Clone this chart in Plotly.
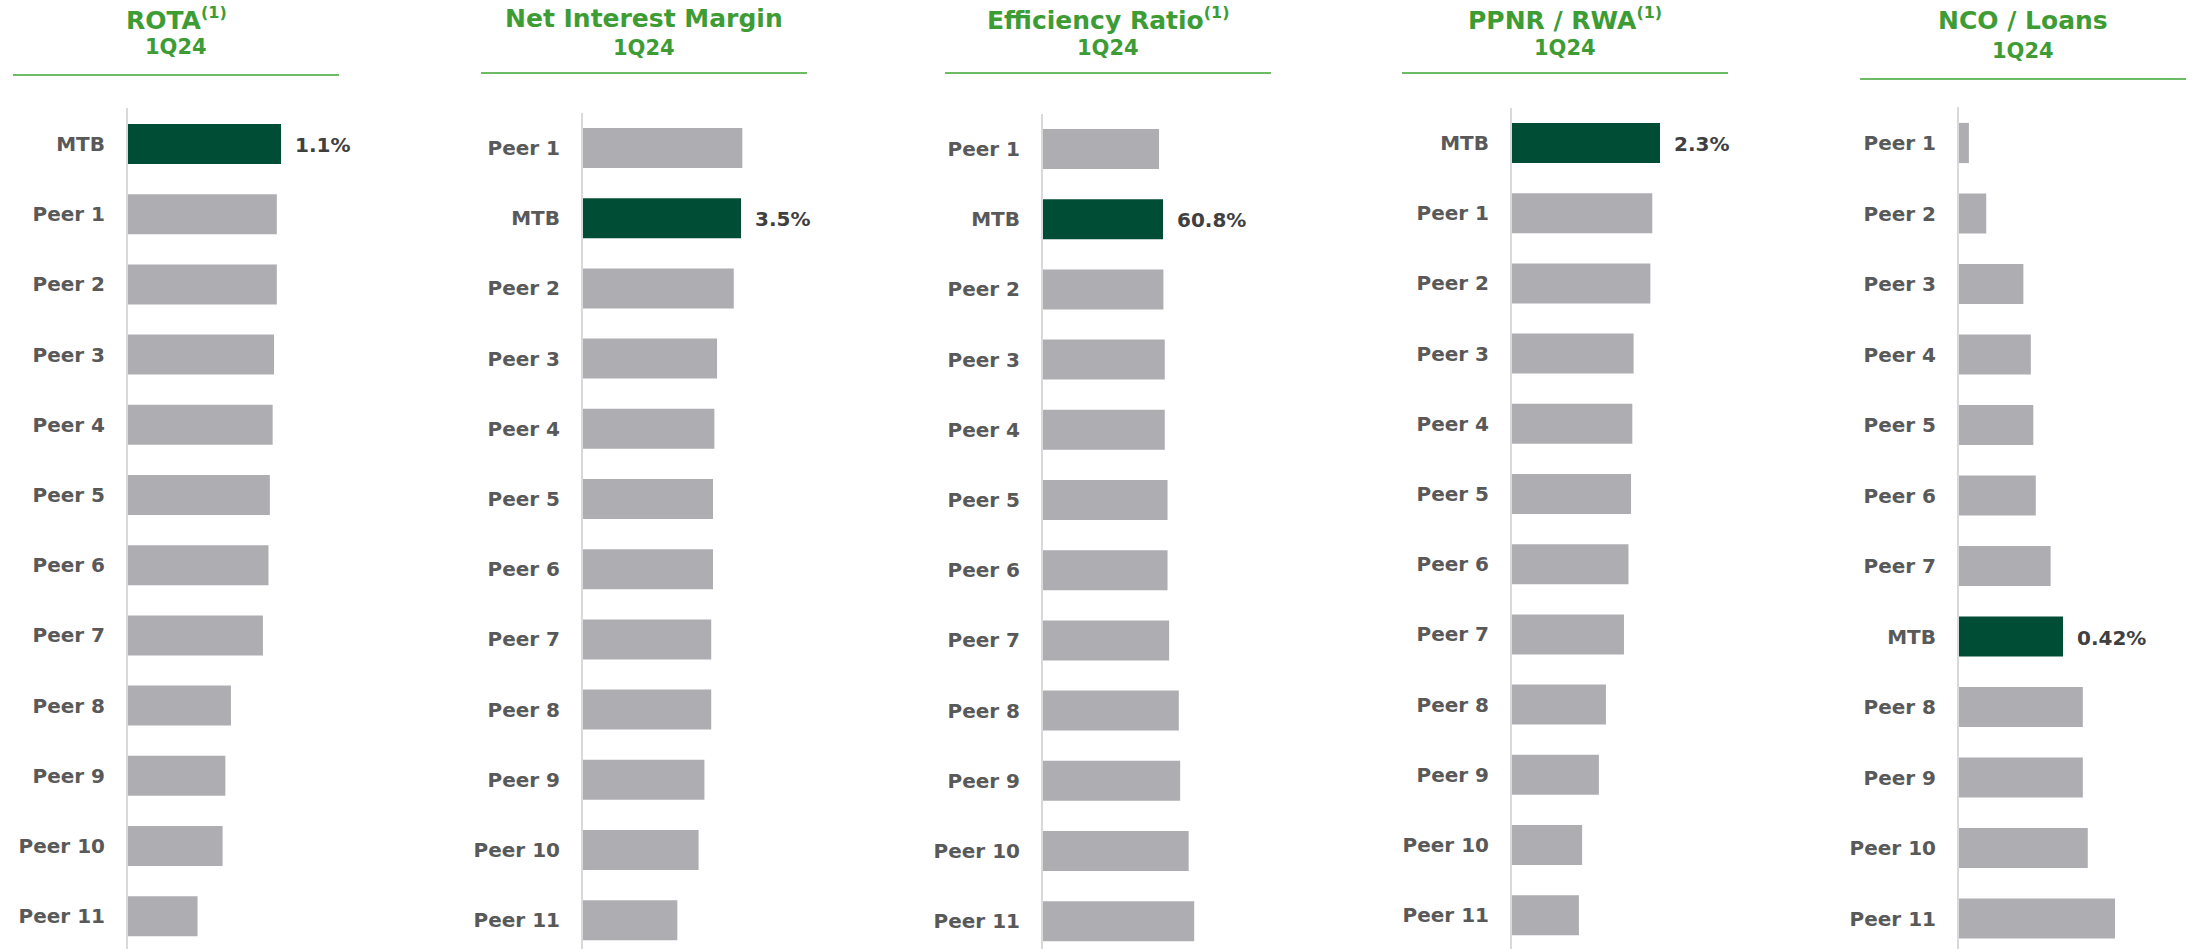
import plotly.graph_objects as go

W, H = 2196, 949

# ---------------- data ----------------
rota_cats = ["MTB", "Peer 1", "Peer 2", "Peer 3", "Peer 4", "Peer 5", "Peer 6",
             "Peer 7", "Peer 8", "Peer 9", "Peer 10", "Peer 11"]
rota_vals = [1.10, 1.07, 1.07, 1.05, 1.04, 1.02, 1.01, 0.97, 0.74, 0.70, 0.68, 0.50]

nim_cats = ["Peer 1", "MTB", "Peer 2", "Peer 3", "Peer 4", "Peer 5", "Peer 6",
            "Peer 7", "Peer 8", "Peer 9", "Peer 10", "Peer 11"]
nim_vals = [3.53, 3.50, 3.34, 2.97, 2.91, 2.88, 2.88, 2.84, 2.84, 2.69, 2.56, 2.09]

eff_cats = ["Peer 1", "MTB", "Peer 2", "Peer 3", "Peer 4", "Peer 5", "Peer 6",
            "Peer 7", "Peer 8", "Peer 9", "Peer 10", "Peer 11"]
eff_vals = [58.8, 60.8, 61.0, 61.7, 61.7, 63.1, 63.1, 63.9, 68.8, 69.5, 73.8, 76.6]

ppnr_cats = ["MTB", "Peer 1", "Peer 2", "Peer 3", "Peer 4", "Peer 5", "Peer 6",
             "Peer 7", "Peer 8", "Peer 9", "Peer 10", "Peer 11"]
ppnr_vals = [2.30, 2.18, 2.15, 1.89, 1.87, 1.85, 1.81, 1.74, 1.46, 1.35, 1.09, 1.04]

nco_cats = ["Peer 1", "Peer 2", "Peer 3", "Peer 4", "Peer 5", "Peer 6", "Peer 7",
            "MTB", "Peer 8", "Peer 9", "Peer 10", "Peer 11"]
nco_vals = [0.04, 0.11, 0.26, 0.29, 0.30, 0.31, 0.37, 0.42, 0.50, 0.50, 0.52, 0.63]

SUP = "<sup><span style='font-size:16px'>(1)</span></sup>"
titles = ["ROTA" + SUP, "Net Interest Margin", "Efficiency Ratio" + SUP,
          "PPNR / RWA" + SUP, "NCO / Loans"]
subtitle = "1Q24"
label_decimals = [1, 1, 1, 1, 2]

# ---------------- styling / layout params (window pixel coords) ----------------
# x0: axis position, ppu: pixels per unit, top: axis line top, c0: first bar centre,
# pitch: category spacing, tc: title centre x, ty/sy: title/subtitle centre y, ly: rule y
panels = [
    dict(cats=rota_cats, vals=rota_vals, x0=128, ppu=153 / 1.10, top=108, c0=144, pitch=70.2,
         tc=176, ty=19, sy=47, ly=75),
    dict(cats=nim_cats, vals=nim_vals, x0=583, ppu=158 / 3.50, top=113, c0=148, pitch=70.2,
         tc=644, ty=19, sy=48, ly=73),
    dict(cats=eff_cats, vals=eff_vals, x0=1043, ppu=120 / 60.8, top=114, c0=149, pitch=70.2,
         tc=1108, ty=19, sy=48, ly=73),
    dict(cats=ppnr_cats, vals=ppnr_vals, x0=1512, ppu=148 / 2.30, top=108, c0=143, pitch=70.2,
         tc=1565, ty=19, sy=48, ly=73),
    dict(cats=nco_cats, vals=nco_vals, x0=1959, ppu=104 / 0.42, top=107, c0=143, pitch=70.5,
         tc=2023, ty=21, sy=51, ly=79),
]
BOTTOM = H

DARK = "#004D36"
GRAY = "#AEADB2"
TITLE_GREEN = "#3E9C35"
LINE_GREEN = "#6DBB63"
LABEL_GRAY = "#595959"
VALUE_GRAY = "#404040"
FONT = "DejaVu Sans, Liberation Sans, Arial, sans-serif"
PANEL_W = 210


def px(xw):
    return xw / W


def py(yw):
    return 1 - yw / H


fig = go.Figure()
layout = dict(
    width=W, height=H,
    margin=dict(l=0, r=0, t=0, b=0),
    paper_bgcolor="white", plot_bgcolor="white",
    showlegend=False,
    bargap=0.43,
    font=dict(family=FONT),
)
annotations = []
shapes = []

for i, p in enumerate(panels, start=1):
    xa = "x" if i == 1 else f"x{i}"
    ya = "y" if i == 1 else f"y{i}"
    colors = [DARK if c == "MTB" else GRAY for c in p["cats"]]
    fig.add_trace(go.Bar(
        x=p["vals"], y=p["cats"], orientation="h",
        marker=dict(color=colors, line=dict(width=0)),
        xaxis=xa, yaxis=ya, hoverinfo="x+y",
    ))
    xd = [px(p["x0"]), px(p["x0"] + PANEL_W)]
    layout["xaxis" if i == 1 else f"xaxis{i}"] = dict(
        domain=xd, range=[0, PANEL_W / p["ppu"]], anchor=ya,
        showgrid=False, zeroline=False, showticklabels=False, showline=False, fixedrange=True,
    )
    r0 = -(p["c0"] - p["top"]) / p["pitch"]
    r1 = r0 + (BOTTOM - p["top"]) / p["pitch"]
    layout["yaxis" if i == 1 else f"yaxis{i}"] = dict(
        domain=[0, py(p["top"])], anchor=xa,
        type="category", categoryorder="array", categoryarray=p["cats"],
        range=[r1, r0],
        showgrid=False, zeroline=False,
        showline=True, linecolor="#D9D9D9", linewidth=2,
        ticks="", ticklabelstandoff=17,
        tickfont=dict(family=FONT, size=20, color=LABEL_GRAY, weight="bold"),
        fixedrange=True,
    )
    # value label for MTB
    k = p["cats"].index("MTB")
    v = p["vals"][k]
    annotations.append(dict(
        x=v, y="MTB", xref=xa, yref=ya, xanchor="left", yanchor="middle",
        xshift=12, yshift=-1, showarrow=False,
        text=f"{v:.{label_decimals[i-1]}f}%",
        font=dict(family=FONT, size=20, color=VALUE_GRAY, weight="bold"),
    ))
    # titles
    annotations.append(dict(
        x=px(p["tc"]), y=py(p["ty"]), xref="paper", yref="paper",
        xanchor="center", yanchor="middle", showarrow=False,
        text=titles[i-1],
        font=dict(family=FONT, size=25, color=TITLE_GREEN, weight="bold"),
    ))
    annotations.append(dict(
        x=px(p["tc"]), y=py(p["sy"]), xref="paper", yref="paper",
        xanchor="center", yanchor="middle", showarrow=False,
        text=subtitle,
        font=dict(family=FONT, size=21, color=TITLE_GREEN, weight="bold"),
    ))
    shapes.append(dict(
        type="line", xref="paper", yref="paper",
        x0=px(p["tc"] - 163), x1=px(p["tc"] + 163),
        y0=py(p["ly"]), y1=py(p["ly"]),
        line=dict(color=LINE_GREEN, width=2),
    ))

layout["annotations"] = annotations
layout["shapes"] = shapes
fig.update_layout(**layout)
fig.write_html(
    "out.html",
    config={"displayModeBar": False},
    post_script="document.body.style.margin='0';document.body.style.overflow='hidden';",
)
